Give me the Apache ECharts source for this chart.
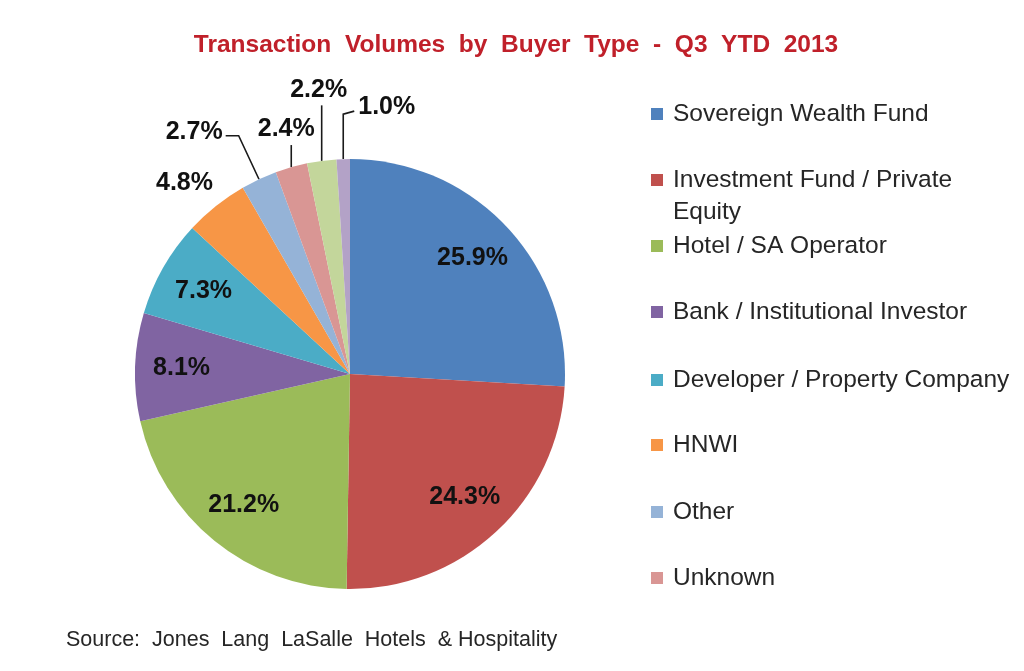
<!DOCTYPE html>
<html><head><meta charset="utf-8">
<script src="https://cdn.jsdelivr.net/npm/echarts@6/dist/echarts.min.js"></script>
<style>html,body{margin:0;padding:0;background:#fff}#c{width:1024px;height:671px}</style>
</head><body><div id="c"></div>
<script>
// ---- data ----
const categories = ['Sovereign Wealth Fund','Investment Fund / Private Equity','Hotel / SA Operator','Bank / Institutional Investor','Developer / Property Company','HNWI','Other','Unknown','Unlisted type A','Unlisted type B'];
const values = [25.9, 24.3, 21.2, 8.1, 7.3, 4.8, 2.7, 2.4, 2.2, 1.0];
const legendNames = categories.slice(0, 8);
const colors = ['#4F81BD','#C0504D','#9BBB59','#8064A2','#4BACC6','#F79646','#95B3D7','#D99694','#C3D69B','#B3A2C7'];
const titleText = 'Transaction  Volumes  by  Buyer  Type  -  Q3  YTD  2013';
const sourceText = 'Source:  Jones  Lang  LaSalle  Hotels  & Hospitality';

// ---- style (not data) ----
const FONT = "'Liberation Sans',Arial,sans-serif";
const CX = 350, CY = 374, R = 215;
const legendCenters = [114, 180, 246, 312, 380, 445, 512, 578];
const LH = 32;
// outer label modes for small slices (index >= 5)
const outerStyle = {
  5: {mode: 'corner', len: 0, len2: 0, line: false, dx: -3, dy: -10},
  6: {mode: 'left', len: 48, len2: 13, line: true, dx: -3, dy: -4},
  7: {mode: 'above', len: 23, len2: 0, line: true, dx: -5, dy: -3},
  8: {mode: 'above', len: 56, len2: 0, line: true, dx: -3, dy: -3},
  9: {mode: 'right', len: 45, len2: 11, line: true, dx: 4, dy: -4}
};

const chart = echarts.init(document.getElementById('c'), null, {renderer: 'canvas'});
const fmt = p => Number(p.value).toFixed(1) + '%';
const labelFont = {fontFamily: FONT, fontWeight: 'bold', fontSize: 25, color: '#111'};

const mainData = values.map((v, i) => {
  const o = outerStyle[i];
  return {
    name: categories[i], value: v,
    itemStyle: {color: colors[i]},
    label: {show: !!o},
    labelLine: o ? {show: o.line, length: o.len, length2: o.len2} : {show: false}
  };
});
const overlayData = values.map((v, i) => ({
  name: categories[i], value: v,
  label: {show: i < 5}
}));

const legends = legendNames.map((n, i) => ({
  orient: 'vertical', left: 651,
  top: legendCenters[i] - (i === 1 ? LH * 1.5 : LH / 2),
  padding: 0, itemWidth: 12, itemHeight: 12, icon: 'rect', itemGap: 0,
  data: [n], selectedMode: false,
  formatter: name => (i === 1 ? ' \nInvestment Fund / Private\nEquity' : name),
  textStyle: {fontFamily: FONT, fontSize: 24.5, color: '#262626', lineHeight: LH, padding: [0, 0, 0, 5]}
}));

chart.setOption({
  animation: false,
  color: colors,
  title: [
    {text: titleText, left: 511, top: 28, textAlign: 'center',
     textStyle: {fontFamily: FONT, fontWeight: 'bold', fontSize: 24.5, color: '#C0202A'}},
    {text: sourceText, left: 61, top: 624,
     textStyle: {fontFamily: FONT, fontWeight: 'normal', fontSize: 21.5, color: '#262626'}}
  ],
  legend: legends,
  series: [
    {
      type: 'pie', center: [CX, CY], radius: R, startAngle: 90, clockwise: true,
      avoidLabelOverlap: false, silent: true,
      label: Object.assign({position: 'outside', formatter: fmt}, labelFont),
      labelLine: {lineStyle: {color: '#1a1a1a', width: 1.6}, smooth: false},
      labelLayout: function (p) {
        const o = outerStyle[p.dataIndex];
        if (!o || !p.labelLinePoints) return {};
        const pts = p.labelLinePoints;
        const a = pts[0], b = pts[1], c = pts[2];
        if (o.mode === 'corner') {
          return {x: a[0] + o.dx, y: a[1] + o.dy, align: 'right', verticalAlign: 'bottom'};
        }
        if (o.mode === 'above') {
          const top = [a[0], b[1]];
          return {x: a[0] + o.dx, y: b[1] + o.dy, align: 'center', verticalAlign: 'bottom',
                  labelLinePoints: [a, top, top]};
        }
        if (o.mode === 'right') {
          const top = [a[0], b[1]];
          const end = [a[0] + o.len2, b[1] - 3];
          return {x: end[0] + o.dx, y: end[1] + o.dy, align: 'left', verticalAlign: 'middle',
                  labelLinePoints: [a, top, end]};
        }
        return {x: c[0] + o.dx, y: c[1] + o.dy, align: 'right', verticalAlign: 'middle',
                labelLinePoints: [a, b, c]};
      },
      data: mainData
    },
    {
      type: 'pie', center: [CX, CY], radius: [116, R], startAngle: 90, clockwise: true,
      silent: true, avoidLabelOverlap: false,
      itemStyle: {color: 'rgba(0,0,0,0)'},
      label: Object.assign({position: 'inside', formatter: fmt}, labelFont),
      labelLine: {show: false},
      data: overlayData
    }
  ]
});
</script></body></html>
